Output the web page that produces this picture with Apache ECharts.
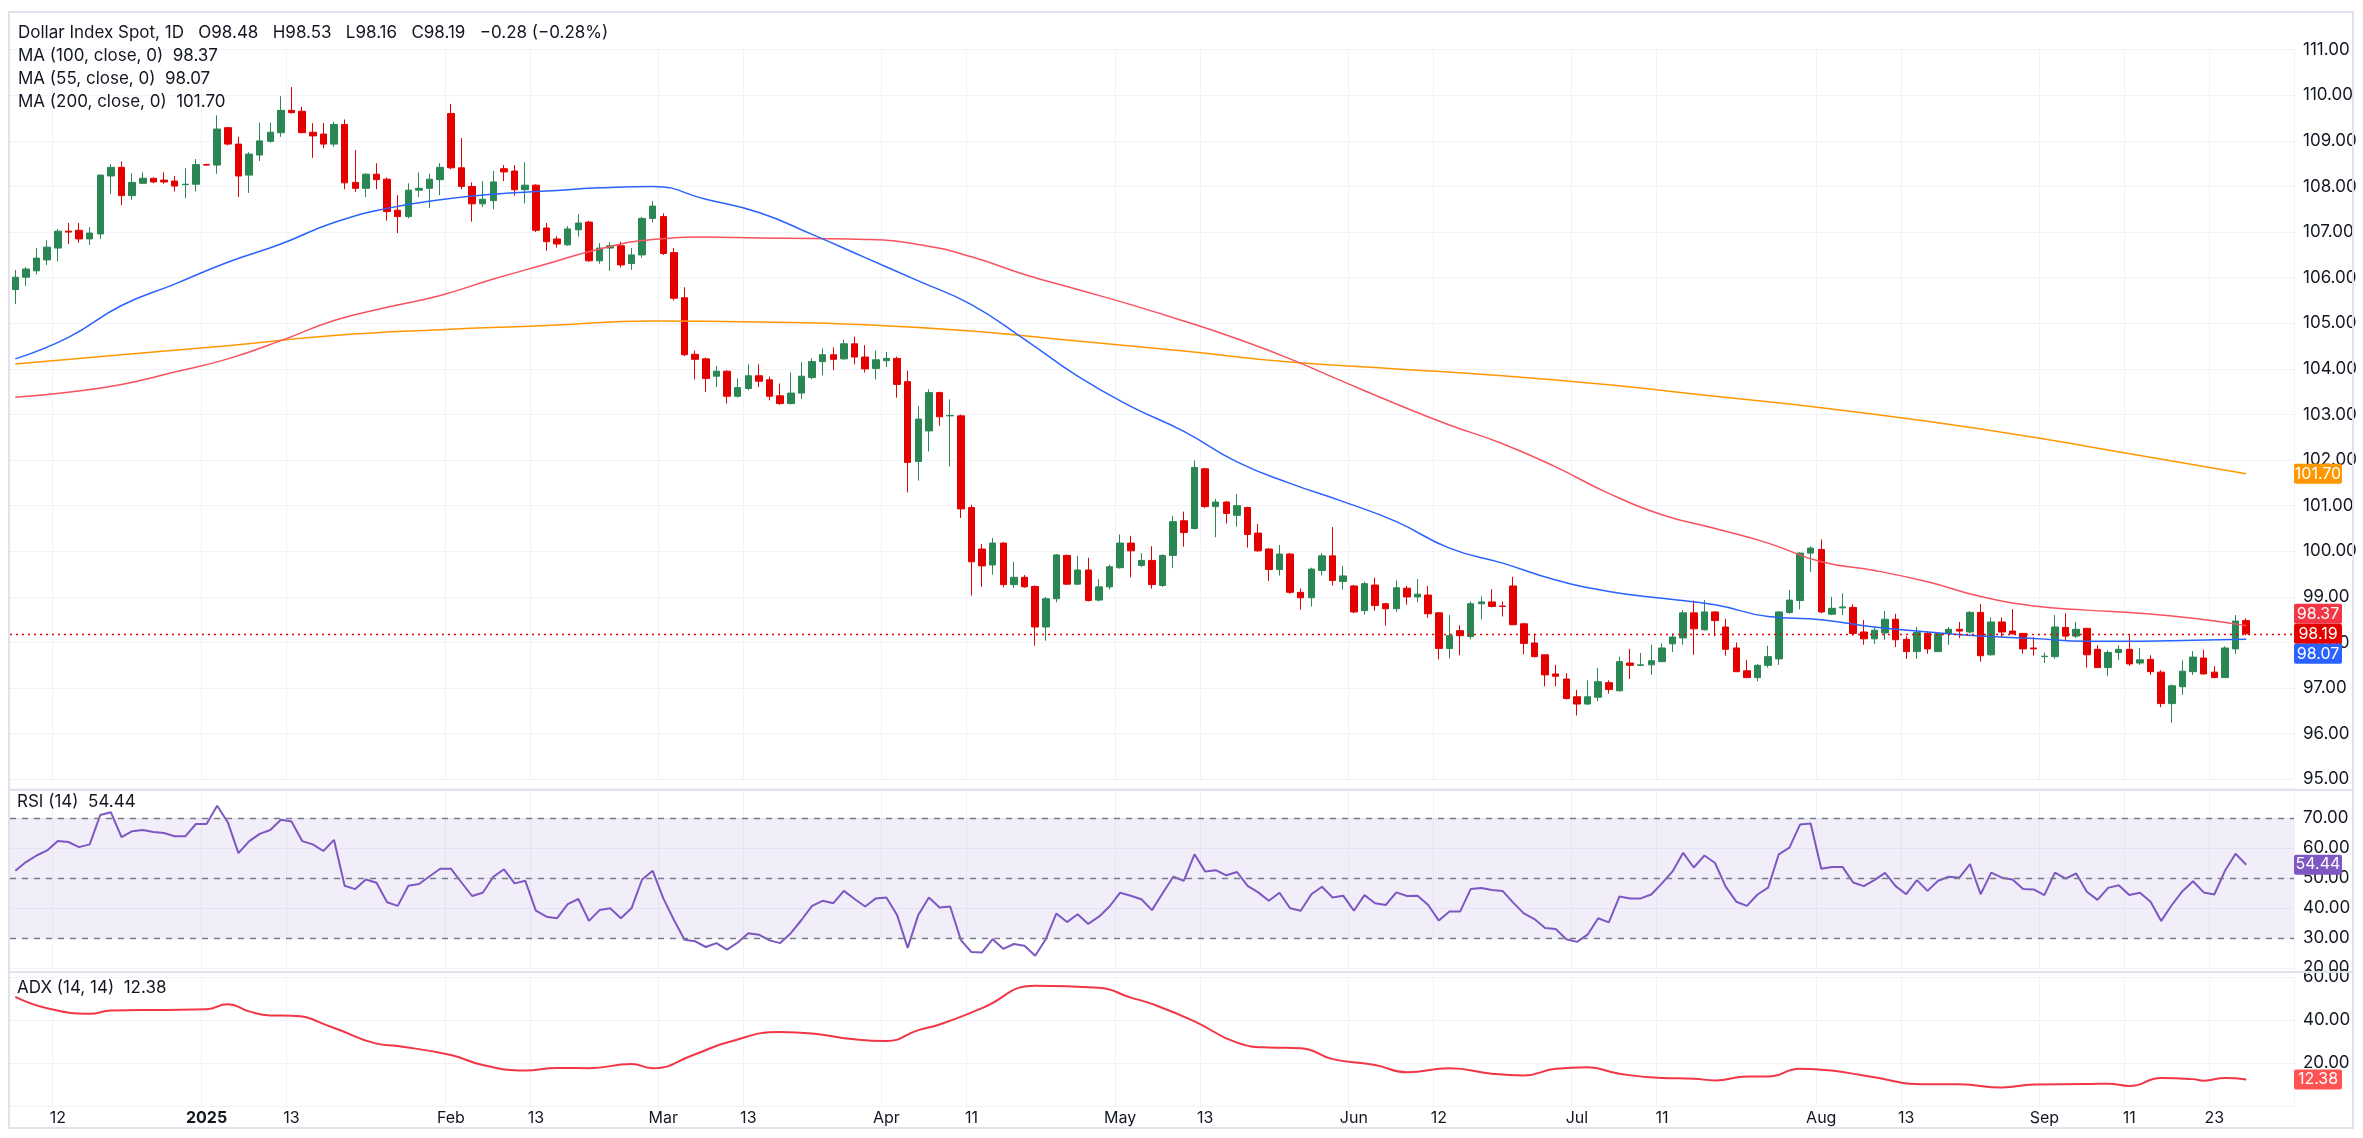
<!DOCTYPE html>
<html><head><meta charset="utf-8">
<script src="https://cdn.jsdelivr.net/npm/echarts@6/dist/echarts.min.js"></script>
<style>html,body{margin:0;padding:0;background:#fff}#c{width:2363px;height:1138px}</style>
</head><body><div id="c"></div>
<script>
// ---------- DATA ----------
// OHLC per weekday from 2024-12-06: [open, close, low, high]
const ohlc = [
[105.74,106.01,105.42,106.17],[106.01,106.19,105.82,106.23],[106.15,106.43,106.07,106.65],[106.39,106.67,106.28,106.82],[106.65,107.02,106.36,107.07],
[107.02,107.00,106.74,107.20],[107.04,106.85,106.77,107.20],[106.85,106.98,106.72,107.11],[106.96,108.25,106.85,108.26],[108.23,108.42,107.83,108.49],
[108.42,107.80,107.59,108.55],[107.80,108.09,107.71,108.29],[108.07,108.18,108.06,108.31],[108.18,108.10,108.07,108.20],[108.14,108.10,108.06,108.31],
[108.12,108.01,107.89,108.23],[108.04,108.05,107.74,108.40],[108.05,108.48,107.89,108.60],[108.48,108.47,108.46,108.50],[108.47,109.26,108.28,109.56],
[109.29,108.93,108.90,109.30],[108.93,108.23,107.77,109.09],[108.25,108.71,107.86,108.75],[108.69,109.00,108.56,109.40],[108.99,109.19,108.96,109.40],
[109.18,109.67,109.09,109.98],[109.67,109.62,109.60,110.18],[109.65,109.18,109.17,109.75],[109.19,109.11,108.63,109.39],[109.15,108.93,108.84,109.39],
[108.93,109.36,108.87,109.42],[109.36,108.08,107.94,109.47],[108.09,107.96,107.88,108.80],[107.96,108.27,107.77,108.29],[108.27,108.15,107.94,108.51],
[108.16,107.45,107.25,108.20],[107.48,107.34,106.98,107.81],[107.34,107.92,107.30,108.07],[107.92,107.96,107.77,108.31],[107.96,108.16,107.53,108.28],
[108.15,108.42,107.81,108.51],[109.60,108.41,108.38,109.81],[108.41,108.00,107.94,109.06],[108.00,107.62,107.23,108.09],[107.62,107.72,107.55,108.12],
[107.69,108.10,107.50,108.34],[108.39,108.32,108.12,108.47],[108.34,107.93,107.80,108.47],[107.93,108.03,107.63,108.53],[108.03,107.04,107.00,108.05],
[107.09,106.79,106.59,107.20],[106.85,106.74,106.66,106.91],[106.72,107.07,106.70,107.13],[107.05,107.20,106.90,107.39],[107.22,106.37,106.35,107.25],
[106.37,106.65,106.31,106.76],[106.65,106.70,106.15,106.78],[106.70,106.28,106.22,106.79],[106.31,106.50,106.17,106.65],[106.50,107.30,106.44,107.33],
[107.30,107.57,107.21,107.68],[107.34,106.53,106.50,107.41],[106.55,105.55,105.50,106.65],[105.56,104.31,104.28,105.79],[104.32,104.21,103.77,104.40],
[104.22,103.79,103.49,104.25],[103.84,103.95,103.60,104.07],[103.95,103.40,103.24,103.97],[103.40,103.59,103.37,103.79],[103.57,103.85,103.53,104.10],
[103.85,103.73,103.60,104.10],[103.76,103.40,103.31,103.83],[103.41,103.24,103.21,103.68],[103.24,103.47,103.22,103.92],[103.47,103.84,103.34,104.15],
[103.81,104.16,103.77,104.23],[104.16,104.31,103.86,104.45],[104.31,104.21,103.97,104.47],[104.22,104.55,104.20,104.64],[104.55,104.26,104.10,104.71],
[104.26,104.00,103.92,104.52],[104.01,104.20,103.77,104.40],[104.18,104.23,104.04,104.37],[104.23,103.66,103.37,104.27],[103.72,101.95,101.29,103.96],
[101.97,102.90,101.55,103.19],[102.64,103.48,102.19,103.55],[103.48,102.95,102.75,103.50],[102.97,102.98,101.86,103.33],[102.97,100.93,100.73,103.00],
[100.96,99.77,99.03,101.02],[100.05,99.68,99.22,100.16],[99.70,100.18,99.49,100.29],[100.18,99.27,99.21,100.20],[99.27,99.43,99.20,99.77],
[99.43,99.22,99.20,99.48],[99.23,98.34,97.93,99.25],[98.34,98.96,98.04,99.00],[98.96,99.92,98.88,99.94],[99.91,99.28,99.26,99.93],
[99.28,99.59,99.26,99.90],[99.59,98.92,98.90,99.86],[98.93,99.22,98.90,99.39],[99.22,99.66,99.16,99.71],[99.64,100.18,99.62,100.37],
[100.18,100.01,99.43,100.34],[99.69,99.80,99.66,99.96],[99.80,99.27,99.18,100.11],[99.25,99.91,99.22,99.93],[99.91,100.65,99.63,100.77],
[100.67,100.41,100.10,100.87],[100.50,101.84,100.48,101.99],[101.81,100.98,100.95,101.83],[100.98,101.08,100.31,101.15],[101.08,100.83,100.61,101.10],
[100.79,101.00,100.54,101.26],[100.96,100.37,100.08,100.98],[100.40,100.01,99.99,100.60],[100.05,99.60,99.35,100.07],[99.60,99.94,99.47,100.14],
[99.94,99.10,99.07,99.96],[99.10,98.98,98.72,99.18],[98.98,99.61,98.79,99.64],[99.58,99.90,99.47,99.96],[99.90,99.36,99.25,100.53],
[99.34,99.46,99.16,99.68],[99.24,98.67,98.64,99.26],[98.70,99.29,98.61,99.33],[99.26,98.81,98.70,99.42],[98.85,98.74,98.37,98.87],
[98.74,99.20,98.67,99.36],[99.19,99.00,98.83,99.24],[99.00,99.06,98.88,99.39],[99.04,98.63,98.54,99.24],[98.65,97.87,97.63,98.67],
[97.87,98.15,97.65,98.60],[98.26,98.15,97.72,98.38],[98.13,98.85,98.07,98.90],[98.85,98.89,98.51,99.01],[98.89,98.79,98.77,99.17],
[98.80,98.79,98.57,98.90],[99.24,98.39,98.38,99.44],[98.41,97.98,97.74,98.43],[97.99,97.69,97.67,98.20],[97.73,97.29,97.04,97.73],
[97.31,97.26,97.04,97.51],[97.20,96.77,96.75,97.33],[96.81,96.65,96.40,96.96],[96.65,96.81,96.63,97.17],[96.80,97.14,96.71,97.44],
[97.12,96.97,96.88,97.17],[96.94,97.58,96.93,97.69],[97.55,97.50,97.20,97.86],[97.50,97.51,97.48,97.77],[97.51,97.60,97.29,97.95],
[97.58,97.88,97.57,97.98],[97.97,98.12,97.79,98.20],[98.10,98.65,97.95,98.71],[98.65,98.30,97.73,98.92],[98.28,98.67,98.26,98.93],
[98.67,98.48,98.14,98.68],[98.34,97.85,97.71,98.52],[97.88,97.36,97.35,98.00],[97.38,97.23,97.22,97.62],[97.23,97.50,97.15,97.53],
[97.50,97.69,97.45,97.93],[97.64,98.67,97.51,98.69],[98.66,98.93,98.63,99.15],[98.92,99.96,98.73,99.98],[99.96,100.07,99.55,100.11],
[100.04,98.67,98.64,100.26],[98.62,98.75,98.60,99.00],[98.76,98.78,98.60,99.08],[98.77,98.20,98.15,98.84],[98.23,98.08,97.95,98.49],
[98.08,98.27,97.97,98.34],[98.21,98.51,98.06,98.69],[98.51,98.06,97.90,98.63],[98.07,97.80,97.64,98.14],[97.80,98.22,97.64,98.34],
[98.20,97.86,97.75,98.25],[97.80,98.19,97.79,98.20],[98.20,98.29,97.95,98.34],[98.29,98.25,98.10,98.45],[98.23,98.66,98.20,98.69],
[98.66,97.71,97.58,98.84],[97.73,98.45,97.71,98.55],[98.45,98.23,98.10,98.55],[98.25,98.19,98.17,98.73],[98.20,97.86,97.75,98.21],
[97.88,97.86,97.71,98.12],[97.69,97.70,97.55,97.78],[97.69,98.34,97.64,98.60],[98.33,98.14,98.04,98.64],[98.14,98.29,98.10,98.45],
[98.31,97.73,97.45,98.32],[97.85,97.45,97.44,97.94],[97.45,97.78,97.27,97.83],[97.78,97.85,97.62,97.94],[97.85,97.53,97.49,98.16],
[97.55,97.62,97.51,97.88],[97.63,97.36,97.29,97.72],[97.35,96.66,96.58,97.39],[96.66,97.05,96.24,97.08],[97.03,97.37,96.85,97.61],
[97.36,97.68,97.29,97.81],[97.66,97.31,97.30,97.84],[97.35,97.23,97.22,97.48],[97.23,97.88,97.22,97.92],[97.86,98.47,97.75,98.60],
[98.48,98.19,98.16,98.53]
];
// moving averages, read at sampled bars: [barNumber(1-based), value]
const ma55 = [[1,104.22],[6,104.69],[11,105.39],[16,105.86],[21,106.34],[26,106.74],[31,107.21],[36,107.52],[41,107.71],[46,107.83],[51,107.90],[56,107.97],[61,108.00],[66,107.72],[71,107.43],[76,106.95],[81,106.44],[86,105.93],[91,105.41],[96,104.65],[101,103.84],[106,103.18],[111,102.63],[116,101.96],[121,101.49],[126,101.09],[131,100.65],[136,100.07],[141,99.74],[146,99.37],[151,99.12],[156,98.97],[161,98.83],[166,98.57],[171,98.50],[176,98.34],[181,98.23],[186,98.14],[191,98.09],[196,98.03],[201,98.03],[206,98.05],[211,98.07]];
const ma100 = [[1,103.38],[6,103.49],[11,103.66],[16,103.93],[21,104.22],[26,104.62],[31,105.06],[36,105.35],[41,105.61],[46,105.97],[51,106.30],[56,106.63],[61,106.84],[66,106.89],[71,106.87],[76,106.86],[81,106.84],[86,106.73],[91,106.46],[96,106.07],[101,105.74],[106,105.41],[111,105.05],[116,104.66],[121,104.22],[126,103.72],[131,103.23],[136,102.77],[141,102.36],[146,101.85],[151,101.27],[156,100.80],[161,100.50],[166,100.18],[171,99.77],[176,99.58],[181,99.33],[186,99.01],[191,98.80],[196,98.71],[201,98.64],[206,98.53],[211,98.37]];
const ma200 = [[1,104.11],[11,104.31],[21,104.51],[31,104.73],[41,104.86],[51,104.95],[61,105.05],[71,105.03],[81,104.97],[91,104.83],[101,104.61],[111,104.39],[121,104.15],[131,104.00],[141,103.85],[151,103.65],[161,103.40],[171,103.15],[181,102.85],[191,102.50],[201,102.10],[211,101.70]];
const rsi = [52.4,55.3,57.5,59.2,62.3,62.0,60.3,61.2,71.0,71.9,63.6,65.6,66.0,65.3,65.0,63.9,63.9,68.0,68.0,74.1,
68.6,58.3,62.2,64.7,66.0,69.4,68.8,62.3,61.2,59.0,62.7,47.4,46.3,49.5,48.4,41.9,40.7,47.4,48.0,50.6,
53.1,53.1,48.5,44.0,45.1,50.4,52.9,48.2,49.1,39.1,37.1,36.6,41.3,43.0,35.7,39.3,39.9,36.6,39.9,49.5,
52.4,43.2,36.0,29.4,28.9,27.0,28.3,26.1,28.5,31.6,31.1,29.2,28.3,31.6,36.0,40.7,42.4,41.6,45.7,43.0,
40.5,43.2,43.5,37.7,26.7,37.7,43.5,40.2,40.5,29.4,25.3,25.2,29.6,26.4,28.0,27.4,24.1,29.6,38.2,35.3,
37.9,34.7,37.1,40.5,45.1,44.1,42.9,39.3,44.9,50.4,49.1,57.9,52.2,52.6,50.9,52.0,47.4,45.2,42.4,45.1,
39.9,39.1,44.6,47.1,43.5,44.1,39.1,44.3,41.6,41.0,45.2,44.0,44.1,41.0,35.8,38.8,38.8,46.3,46.7,46.0,
45.7,41.8,38.2,36.3,33.3,33.0,29.6,28.7,31.1,36.6,35.2,43.8,43.2,43.2,44.5,48.2,52.2,58.4,53.5,57.5,
55.0,47.1,42.1,40.7,44.5,46.8,57.9,60.1,67.8,68.2,53.1,53.7,53.7,48.5,47.3,49.3,51.7,47.3,44.6,49.3,
45.7,49.1,50.4,50.1,54.6,44.6,51.8,50.1,49.5,46.3,46.2,44.3,51.8,49.8,51.5,45.4,42.7,46.7,47.6,44.3,
45.1,42.1,35.7,41.0,45.6,48.9,45.2,44.5,52.4,58.1,54.44];
const adx = [[1,50.8],[4,45.5],[8,42.9],[10,44.4],[15,44.7],[19,45.0],[21,47.3],[23,44.0],[25,42.1],[27,42.0],[31,36.3],[35,29.0],[37,27.9],[42,23.7],[45,19.1],[49,16.5],[52,17.7],[55,17.6],[59,19.5],[61,17.6],[65,24.1],[68,29.5],[73,34.4],[76,33.7],[80,31.0],[83,30.2],[86,35.3],[88,37.9],[92,45.5],[97,55.9],[103,55.0],[106,50.4],[108,47.5],[112,39.4],[116,29.5],[119,27.2],[122,26.9],[125,21.8],[129,19.1],[132,15.7],[136,17.6],[140,15.0],[143,14.2],[146,17.3],[149,18.0],[152,15.0],[156,13.0],[159,12.7],[161,11.9],[164,13.7],[166,13.7],[169,17.3],[172,16.5],[175,14.2],[181,10.1],[184,10.1],[188,8.6],[191,10.0],[196,10.2],[198,10.4],[200,9.3],[203,13.0],[206,12.5],[207,11.8],[209,13.0],[211,12.38]];
const tickLabels = {"2024-12-12":"12","2025-01-01":"2025","2025-01-13":"13","2025-02-03":"Feb","2025-02-13":"13","2025-03-03":"Mar","2025-03-13":"13","2025-04-01":"Apr","2025-04-11":"11","2025-05-01":"May","2025-05-13":"13","2025-06-02":"Jun","2025-06-12":"12","2025-07-01":"Jul","2025-07-11":"11","2025-08-01":"Aug","2025-08-13":"13","2025-09-01":"Sep","2025-09-11":"11","2025-09-23":"23"};

// ---------- categories ----------
const dates = [];
{ let d = new Date(Date.UTC(2024,11,6)); const end = Date.UTC(2025,8,26);
  while (d.getTime() <= end) { const w = d.getUTCDay(); if (w>0 && w<6) dates.push(d.toISOString().slice(0,10)); d = new Date(d.getTime()+86400000); } }
const cats = dates.concat(['p1','p2','p3','p4']);
const isTick = i => tickLabels[cats[i]] !== undefined;
const toPts = arr => arr.map(p => [p[0]-1, p[1]]);

const UP='#2a8753', DN='#e50000';
const FONT='Inter, Roboto, sans-serif';
const L=10, W=2284;
const grids=[{left:L,width:W,top:49.7,height:729.6},{left:L,width:W,top:788,height:180},{left:L,width:W,top:977,height:129}];
const splitX={show:true,interval:(i)=>isTick(i),lineStyle:{color:'#f0f3fa',width:1}};
function xa(g,labels){return {type:'category',gridIndex:g,data:cats,boundaryGap:true,axisLine:{show:false},axisTick:{show:false},splitLine:splitX,
 axisLabel:labels?{show:true,interval:(i)=>isTick(i),formatter:(v)=>tickLabels[v]===undefined?'':(tickLabels[v]==='2025'?'{b|2025}':tickLabels[v]),color:'#131722',fontSize:16,fontFamily:FONT,margin:4,rich:{b:{fontWeight:'bold',fontSize:16,fontFamily:FONT,color:'#131722'}}}:{show:false}};}
const yl={color:'#131722',fontSize:17,fontFamily:FONT,margin:9,formatter:v=>v.toFixed(2)};
const chart=echarts.init(document.getElementById('c'),null,{renderer:'canvas'});
chart.setOption({
 animation:false,
 grid:grids,
 xAxis:[xa(0,false),xa(1,false),xa(2,true)],
 yAxis:[
  {gridIndex:0,position:'right',min:95,max:111,interval:1,axisLine:{show:false},axisTick:{show:false},axisLabel:yl,splitLine:{lineStyle:{color:'#f0f3fa'}}},
  {gridIndex:1,position:'right',min:20,max:80,interval:10,axisLine:{show:false},axisTick:{show:false},axisLabel:Object.assign({},yl,{formatter:v=>v>=80?'':v.toFixed(2)}),splitLine:{lineStyle:{color:'#f0f3fa'}}},
  {gridIndex:2,position:'right',min:0,max:60,interval:20,axisLine:{show:false},axisTick:{show:false},axisLabel:Object.assign({},yl,{formatter:v=>v<=0?'':v.toFixed(2)}),splitLine:{lineStyle:{color:'#f0f3fa'}}}
 ],
 series:[
  {type:'candlestick',xAxisIndex:0,yAxisIndex:0,data:ohlc,barWidth:7,itemStyle:{color:UP,color0:DN,borderColor:UP,borderColor0:DN,borderWidth:1},
   markLine:{silent:true,symbol:'none',data:[{yAxis:98.19}],lineStyle:{color:DN,type:[2,4],width:1.3},label:{show:false}}},
  {type:'line',xAxisIndex:0,yAxisIndex:0,data:toPts(ma200),smooth:true,showSymbol:false,lineStyle:{color:'#ff9800',width:1.5}},
  {type:'line',xAxisIndex:0,yAxisIndex:0,data:toPts(ma100),smooth:true,showSymbol:false,lineStyle:{color:'#f7525f',width:1.5}},
  {type:'line',xAxisIndex:0,yAxisIndex:0,data:toPts(ma55),smooth:true,showSymbol:false,lineStyle:{color:'#2962ff',width:1.5}},
  {type:'line',xAxisIndex:1,yAxisIndex:1,data:rsi,showSymbol:false,lineStyle:{color:'#7e57c2',width:2},
   markArea:{silent:true,itemStyle:{color:'rgba(126,87,194,0.1)'},data:[[{yAxis:30},{yAxis:70}]]},
   markLine:{silent:true,symbol:'none',label:{show:false},lineStyle:{color:'#787b86',type:[6,6],width:1.3},data:[{yAxis:70},{yAxis:50},{yAxis:30}]}},
  {type:'line',xAxisIndex:2,yAxisIndex:2,data:toPts(adx),smooth:true,showSymbol:false,lineStyle:{color:'#f23645',width:2}}
 ]
});
// ---------- overlays: legends, separators, value boxes ----------
const g=[];
const FS=17;
const T=(x,y,rich,text)=>({type:'text',left:x,top:y,style:{text:text,rich:rich,font:FS+'px '+FONT,fill:'#131722'}});
const mk=c=>({fontSize:FS,fontFamily:FONT,color:c});
const rich={k:mk('#131722'),r:mk('#e50000'),p:mk('#f23645'),bl:mk('#2962ff'),o:mk('#ff9800'),v:mk('#7e57c2'),ad:mk('#f23645')};
g.push(T(18,24,rich,'{k|Dollar Index Spot, 1D   O}{r|98.48}{k|   H}{r|98.53}{k|   L}{r|98.16}{k|   C}{r|98.19}{r|   −0.28 (−0.28%)}'));
g.push(T(18,47,rich,'{k|MA (100, close, 0)  }{p|98.37}'));
g.push(T(18,70,rich,'{k|MA (55, close, 0)  }{bl|98.07}'));
g.push(T(18,93,rich,'{k|MA (200, close, 0)  }{o|101.70}'));
g.push(T(17,793,rich,'{k|RSI (14)  }{v|54.44}'));
g.push(T(17,979,rich,'{k|ADX (14, 14)  }{ad|12.38}'));
const line=(x1,y1,x2,y2,c,w)=>({type:'line',shape:{x1,y1,x2,y2},style:{stroke:c,lineWidth:w},z:100});
g.push({type:'rect',shape:{x:9,y:12,width:2344,height:1116},style:{fill:'none',stroke:'#e0e3eb',lineWidth:2},z:100});
g.push(line(9,790,2353,790,'#e0e3eb',2));
g.push(line(9,972,2353,972,'#e0e3eb',2));
function box(gi,val,txt,color,dy){
  const y=chart.convertToPixel({yAxisIndex:gi},val)+dy;
  g.push({type:'rect',shape:{x:2294,y:y-10,width:48,height:20,r:2},style:{fill:color},z:110});
  g.push({type:'text',x:2318,y:y,style:{text:txt,font:'16px '+FONT,fill:'#fff',align:'center',verticalAlign:'middle'},z:111});
}
const py=v=>chart.convertToPixel({yAxisIndex:0},v);
box(0,101.70,'101.70','#ff9800',0);
box(0,98.19,'98.19','#e50000',0);
box(0,98.37,'98.37','#f23645',py(98.19)-20-py(98.37));
box(0,98.07,'98.07','#2962ff',py(98.19)+20-py(98.07));
box(1,54.44,'54.44','#7e57c2',0);
box(2,12.38,'12.38','#ff5252',0);
chart.setOption({graphic:g});
</script></body></html>
